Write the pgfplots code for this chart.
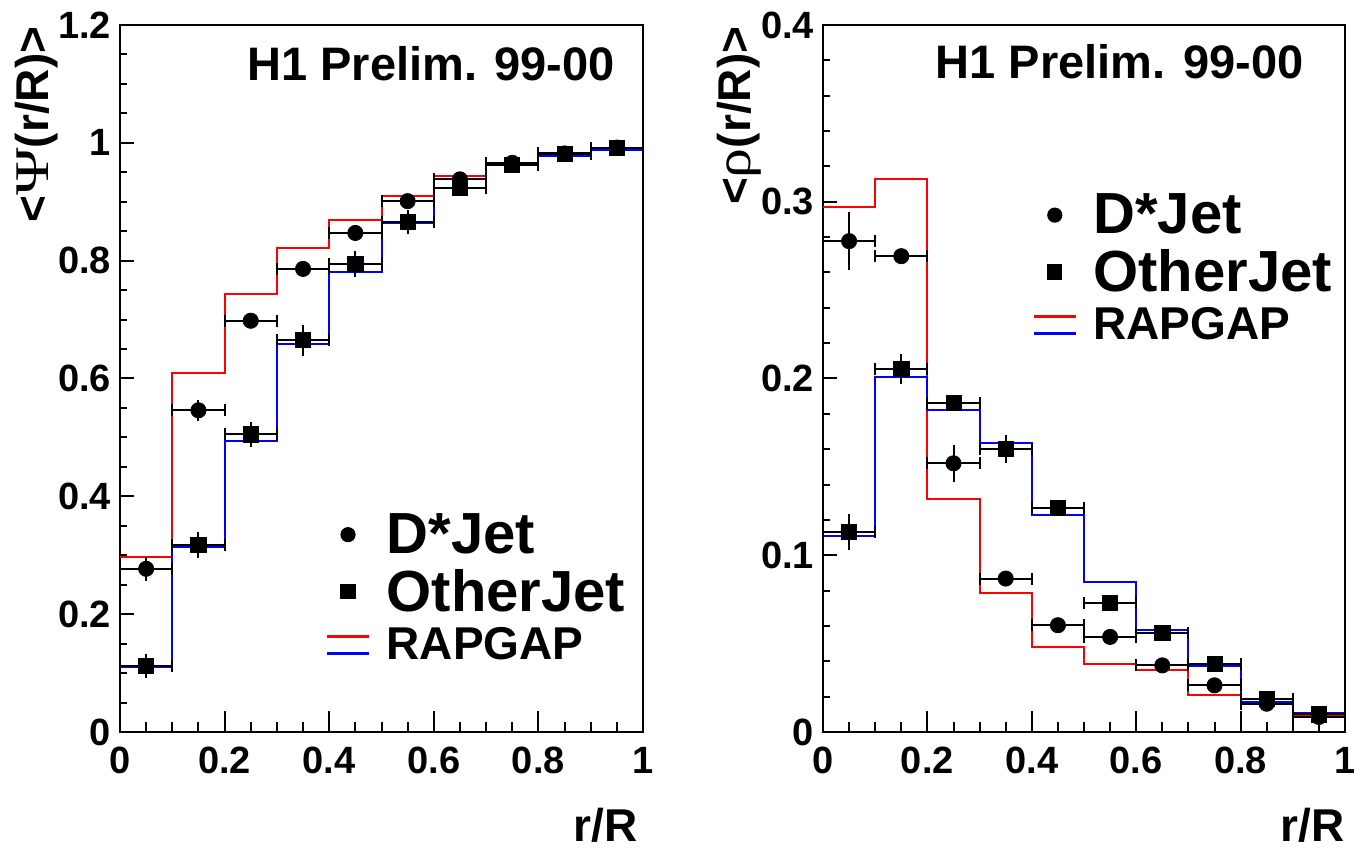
\documentclass[border=0pt]{standalone}
\usepackage{pgfplots}
\pgfplotsset{compat=1.18}
\usepackage{graphicx}
\usepackage{fontspec}
\setmainfont{Liberation Sans}
\newfontfamily\grk{Liberation Serif}
\begin{document}
\begin{tikzpicture}
\useasboundingbox (-60pt,-61.5pt) rectangle (617.5pt,366pt);
\pgfplotsset{
  h1axis/.style={
    scale only axis, height=353.5pt,
    xmin=0, xmax=1,
    clip mode=individual,
    axis line style={line width=1pt},
    tick align=inside, xtick pos=bottom, ytick pos=left,
    xtick={0,0.2,0.4,0.6,0.8,1},
    minor x tick num=3,
    tick style={line width=1pt, black},
    xtick style={/pgfplots/major tick length=10.5pt,/pgfplots/minor tick length=5pt},
    ytick style={/pgfplots/major tick length=7pt,/pgfplots/minor tick length=3.5pt},
    /pgf/number format/assume math mode=true,
    ticklabel style={font=\fontsize{19}{19}\selectfont\bfseries},
    xticklabel style={yshift=-4pt},
    yticklabel style={xshift=-1pt},
    legend cell align=left,
    legend style={draw=none, fill=none, inner sep=0pt, row sep=6.5pt, column sep=8pt, nodes={inner sep=0pt}},
  },
  hist/.style={const plot, line width=1pt, mark=none, forget plot},
  yerr/.style={only marks, mark=none, forget plot, error bars/.cd, y dir=both, y explicit, error mark=none, error bar style={line width=1pt, draw=black, solid}},
  xerr/.style={only marks, black, mark size=3.8pt, forget plot, error bars/.cd, x dir=both, x explicit, y dir=none, error mark options={rotate=90, mark size=3pt, line width=1pt, black}, error bar style={line width=1pt, draw=black, solid}},
  legcirc/.style={legend image code/.code={\path[draw=none,fill=none] (0pt,-5pt) rectangle (21pt,5pt); \fill[black,draw=none] (10.5pt,0pt) circle (3.8pt);}},
  legsq/.style={legend image code/.code={\path[draw=none,fill=none] (0pt,-5pt) rectangle (21pt,5pt); \fill[black,draw=none] (6.7pt,-3.8pt) rectangle (14.3pt,3.8pt);}},
  legrap/.style={legend image code/.code={\draw[red, line width=1.6pt] (0pt,4.25pt) -- (21pt,4.25pt); \draw[blue, line width=1.6pt] (0pt,-4.25pt) -- (21pt,-4.25pt);}},
}
% ---------------- left panel ----------------
\begin{axis}[h1axis, at={(0pt,0pt)}, anchor=south west, width=261.5pt,
  ymin=0, ymax=1.2, ytick={0,0.2,0.4,0.6,0.8,1,1.2}, minor y tick num=3,
  legend style={at={(rel axis cs:0.392,0.31)}, anchor=north west}]
\addplot[red, hist] coordinates {(0,0.297)(0.1,0.610)(0.2,0.743)(0.3,0.821)(0.4,0.869)(0.5,0.909)(0.6,0.943)(0.7,0.965)(0.8,0.981)(0.9,0.991)(1,0.991)};
\addplot[blue, hist] coordinates {(0,0.111)(0.1,0.314)(0.2,0.494)(0.3,0.658)(0.4,0.780)(0.5,0.864)(0.6,0.923)(0.7,0.962)(0.8,0.978)(0.9,0.988)(1,0.988)};
\addplot[yerr] coordinates {(0.05,0.277)+-(0,0.020)(0.15,0.546)+-(0,0.018)(0.25,0.698)+-(0,0.008)(0.35,0.786)+-(0,0.006)(0.45,0.847)+-(0,0.010)(0.55,0.901)+-(0,0.010)(0.65,0.938)+-(0,0.008)(0.75,0.966)+-(0,0.006)(0.85,0.982)+-(0,0.005)(0.95,0.992)+-(0,0.003)};
\addplot[yerr] coordinates {(0.05,0.112)+-(0,0.020)(0.15,0.318)+-(0,0.022)(0.25,0.505)+-(0,0.022)(0.35,0.665)+-(0,0.026)(0.45,0.795)+-(0,0.022)(0.55,0.866)+-(0,0.020)(0.65,0.923)+-(0,0.012)(0.75,0.962)+-(0,0.010)(0.85,0.981)+-(0,0.006)(0.95,0.991)+-(0,0.003)};
\addplot[mark=*, xerr] coordinates {(0.05,0.277)+-(0.05,0)(0.15,0.546)+-(0.05,0)(0.25,0.698)+-(0.05,0)(0.35,0.786)+-(0.05,0)(0.45,0.847)+-(0.05,0)(0.55,0.901)+-(0.05,0)(0.65,0.938)+-(0.05,0)(0.75,0.966)+-(0.05,0)(0.85,0.982)+-(0.05,0)(0.95,0.992)+-(0.05,0)};
\addplot[mark=square*, xerr] coordinates {(0.05,0.112)+-(0.05,0)(0.15,0.318)+-(0.05,0)(0.25,0.505)+-(0.05,0)(0.35,0.665)+-(0.05,0)(0.45,0.795)+-(0.05,0)(0.55,0.866)+-(0.05,0)(0.65,0.923)+-(0.05,0)(0.75,0.962)+-(0.05,0)(0.85,0.981)+-(0.05,0)(0.95,0.991)+-(0.05,0)};
\addlegendimage{legcirc}
\addlegendentry{\fontsize{29}{29}\selectfont\bfseries D*Jet}
\addlegendimage{legsq}
\addlegendentry{\fontsize{29}{29}\selectfont\bfseries OtherJet}
\addlegendimage{legrap}
\addlegendentry{\fontsize{23}{23}\selectfont\bfseries RAPGAP}
\node[anchor=base east, inner sep=0pt, font=\fontsize{23.5}{23.5}\selectfont\bfseries] at (rel axis cs:0.947,0.922) {H1 Prelim. 99-00};
\node[anchor=north east, rotate=90, inner sep=0pt, font=\fontsize{23}{23}\selectfont\bfseries] at (rel axis cs:-0.201,0.998) {<{\grk\mdseries\scalebox{1.4}[1.05]{Ψ}}(r/R)>};
\node[anchor=base east, inner sep=0pt, font=\fontsize{23}{23}\selectfont\bfseries] at (rel axis cs:0.99,-0.155) {r/R};
\end{axis}
% ---------------- right panel ----------------
\begin{axis}[h1axis, at={(351.5pt,0pt)}, anchor=south west, width=261pt,
  ymin=0, ymax=0.4, ytick={0,0.1,0.2,0.3,0.4}, minor y tick num=4,
  legend style={at={(rel axis cs:0.40,0.762)}, anchor=north west}]
\addplot[red, hist] coordinates {(0,0.297)(0.1,0.313)(0.2,0.132)(0.3,0.0787)(0.4,0.0481)(0.5,0.0387)(0.6,0.0349)(0.7,0.0208)(0.8,0.0164)(0.9,0.0089)(1,0.0089)};
\addplot[blue, hist] coordinates {(0,0.111)(0.1,0.201)(0.2,0.182)(0.3,0.1636)(0.4,0.1226)(0.5,0.0849)(0.6,0.0575)(0.7,0.0374)(0.8,0.017)(0.9,0.0108)(1,0.0108)};
\addplot[yerr] coordinates {(0.05,0.2777)+-(0,0.0165)(0.15,0.2692)+-(0,0.003)(0.25,0.152)+-(0,0.0105)(0.35,0.0868)+-(0,0.003)(0.45,0.0604)+-(0,0.003)(0.55,0.0538)+-(0,0.002)(0.65,0.0377)+-(0,0.002)(0.75,0.0264)+-(0,0.002)(0.85,0.016)+-(0,0.002)(0.95,0.0085)+-(0,0.002)};
\addplot[yerr] coordinates {(0.05,0.1132)+-(0,0.010)(0.15,0.2053)+-(0,0.0085)(0.25,0.186)+-(0,0.004)(0.35,0.160)+-(0,0.008)(0.45,0.127)+-(0,0.003)(0.55,0.073)+-(0,0.003)(0.65,0.056)+-(0,0.003)(0.75,0.0383)+-(0,0.003)(0.85,0.0189)+-(0,0.003)(0.95,0.010)+-(0,0.003)};
\addplot[mark=*, xerr] coordinates {(0.05,0.2777)+-(0.05,0)(0.15,0.2692)+-(0.05,0)(0.25,0.152)+-(0.05,0)(0.35,0.0868)+-(0.05,0)(0.45,0.0604)+-(0.05,0)(0.55,0.0538)+-(0.05,0)(0.65,0.0377)+-(0.05,0)(0.75,0.0264)+-(0.05,0)(0.85,0.016)+-(0.05,0)(0.95,0.0085)+-(0.05,0)};
\addplot[mark=square*, xerr] coordinates {(0.05,0.1132)+-(0.05,0)(0.15,0.2053)+-(0.05,0)(0.25,0.186)+-(0.05,0)(0.35,0.160)+-(0.05,0)(0.45,0.127)+-(0.05,0)(0.55,0.073)+-(0.05,0)(0.65,0.056)+-(0.05,0)(0.75,0.0383)+-(0.05,0)(0.85,0.0189)+-(0.05,0)(0.95,0.010)+-(0.05,0)};
\addlegendimage{legcirc}
\addlegendentry{\fontsize{29}{29}\selectfont\bfseries D*Jet}
\addlegendimage{legsq}
\addlegendentry{\fontsize{29}{29}\selectfont\bfseries OtherJet}
\addlegendimage{legrap}
\addlegendentry{\fontsize{23}{23}\selectfont\bfseries RAPGAP}
\node[anchor=base east, inner sep=0pt, font=\fontsize{23.5}{23.5}\selectfont\bfseries] at (rel axis cs:0.921,0.925) {H1 Prelim. 99-00};
\node[anchor=north east, rotate=90, inner sep=0pt, font=\fontsize{23}{23}\selectfont\bfseries] at (rel axis cs:-0.203,0.998) {<{\grk\mdseries\scalebox{1.3}[1.1]{ρ}}(r/R)>};
\node[anchor=base east, inner sep=0pt, font=\fontsize{23}{23}\selectfont\bfseries] at (rel axis cs:1.0,-0.155) {r/R};
\end{axis}
\end{tikzpicture}
\end{document}
